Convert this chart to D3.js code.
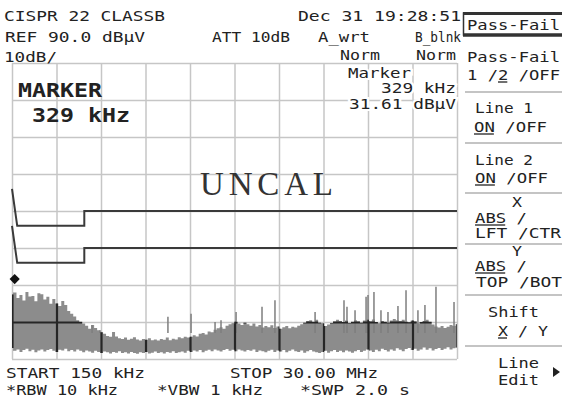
<!DOCTYPE html>
<html><head><meta charset="utf-8">
<script src="https://cdn.jsdelivr.net/npm/d3@7"></script>
<style>
html,body{margin:0;padding:0;background:#fff;}
svg{display:block;}
text{font-family:"DejaVu Sans Mono","Liberation Mono",monospace;fill:#222;}
</style></head><body>
<svg id="chart" width="562" height="403"></svg>
<script>
// Sweep settings
const startMHz = 0.15, stopMHz = 30.0;
const refLevel = 90, dbPerDiv = 10, yDivs = 8, xDivs = 10;

// Peak envelope of the sweep (dBµV), 150 evenly spaced display points
const tracePeak = [
  27.4, 28.0, 26.5, 27.3, 25.8, 28.1, 26.9, 27.0, 25.6, 27.8,
  27.5, 26.1, 26.8, 24.9, 26.2, 25.0, 24.3, 25.7, 24.6, 23.0,
  22.2, 21.5, 20.5, 20.1, 19.5, 19.0, 18.2, 19.2, 18.4, 17.8,
  17.2, 16.8, 16.2, 16.0, 17.3, 16.1, 15.6, 15.4, 15.8, 15.2,
  15.5, 15.9, 15.3, 15.0, 15.4, 15.2, 15.6, 15.1, 15.3, 15.0,
  15.4, 15.2, 15.8, 15.1, 15.5, 15.3, 15.9, 15.6, 16.0, 15.8,
  16.0, 16.4, 16.1, 16.8, 17.0, 16.6, 17.4, 17.2, 17.9, 18.3,
  18.6, 18.2, 19.0, 19.4, 19.6, 20.1, 19.5, 19.2, 19.8, 19.4,
  19.0, 19.5, 18.8, 19.2, 18.5, 18.9, 18.6, 19.1, 18.4, 18.8,
  18.2, 18.6, 18.9, 18.3, 18.7, 18.5, 19.0, 19.4, 19.8, 20.3,
  20.5, 20.1, 20.6, 19.8, 19.6, 18.9, 19.3, 19.7, 20.2, 20.6,
  20.3, 20.0, 20.4, 19.7, 20.1, 20.5, 20.2, 19.8, 20.4, 20.6,
  20.2, 20.7, 20.0, 19.6, 20.3, 20.1, 19.8, 20.4, 20.8, 20.5,
  20.3, 20.6, 20.1, 19.9, 20.4, 20.2, 19.5, 20.0, 20.3, 20.6,
  20.1, 19.3, 18.8, 18.5, 18.9, 18.4, 18.7, 19.2, 18.9, 19.4
];

// Lower edge of the noise band (dBµV), same display points
const traceFloor = [
  13.0, 12.2, 12.6, 11.9, 12.4, 12.8, 12.1, 12.5, 11.8, 12.3,
  12.6, 12.0, 12.4, 12.7, 12.2, 11.9, 12.5, 12.3, 12.8, 12.1,
  12.4, 12.0, 12.6, 12.2, 11.8, 12.3, 12.0, 11.7, 12.2, 11.9,
  11.6, 12.0, 11.8, 11.5, 11.9, 11.7, 12.1, 11.6, 11.8, 11.5,
  11.9, 11.6, 11.4, 11.8, 11.6, 11.9, 11.5, 11.7, 12.0, 11.6,
  11.8, 11.5, 11.9, 11.7, 12.1, 11.6, 11.8, 12.0, 11.7, 12.2,
  11.9, 12.3, 12.0, 12.4, 11.8, 12.2, 12.5, 12.1, 12.6, 12.3,
  12.0, 12.4, 12.7, 12.2, 12.5, 12.1, 12.6, 12.3, 12.0, 12.4,
  12.2, 12.6, 11.9, 12.3, 12.1, 11.8, 12.2, 12.5, 11.9, 12.3,
  12.0, 12.4, 11.8, 12.2, 12.6, 12.1, 11.9, 12.3, 11.7, 12.1,
  12.4, 12.0, 11.8, 11.6, 11.9, 12.2, 11.7, 12.1, 12.4, 11.9,
  12.2, 11.8, 12.3, 12.0, 11.7, 12.1, 12.4, 11.9, 12.2, 12.6,
  12.3, 11.9, 12.5, 12.1, 12.8, 12.4, 12.0, 12.6, 12.2, 12.9,
  12.5, 12.1, 12.7, 13.0, 12.4, 12.8, 12.2, 12.6, 13.1, 12.5,
  12.9, 12.3, 12.7, 13.0, 12.4, 12.8, 13.2, 12.6, 12.9, 13.1
];

// Narrow spurs standing above the noise band
const spurFreq  = [5.52, 6.05, 10.61, 12.16, 13.77, 14.17, 15.18, 16.92, 17.79, 20.48,
                   22.42, 22.62, 23.16, 23.90, 24.03, 24.43, 24.90, 25.37, 26.04, 26.58,
                   27.38, 27.85, 28.59, 29.80];
const spurLevel = [19.2, 17.8, 21.4, 22.2, 20.0, 20.5, 22.7, 24.1, 25.9, 22.7,
                   25.9, 24.1, 23.2, 26.8, 27.3, 28.1, 23.2, 22.7, 24.3, 28.6,
                   23.2, 24.6, 29.5, 25.4];

// Limit lines (CISPR 22 class B breakpoints, MHz / dBµV)
const limitFreq = [0.15, 0.5, 5.0, 5.0, 30.0];
const limitLine1 = [56, 46, 46, 50, 50];
const limitLine2 = [46, 36, 36, 40, 40];

// Marker readout
const markerFreq = 0.329, markerLevel = 31.61;

const svg = d3.select("#chart");
const gridL = 12, gridR = 457, gridT = 63, gridB = 359;

const x = d3.scaleLinear().domain([startMHz, stopMHz]).range([gridL, gridR]);
const y = d3.scaleLinear().domain([refLevel - yDivs * dbPerDiv, refLevel]).range([gridB, gridT]);

const xGridVals = d3.range(xDivs + 1).map(i => startMHz + i * (stopMHz - startMHz) / xDivs);
const yGridVals = d3.range(yDivs + 1).map(i => refLevel - i * dbPerDiv);

// Graticule drawn with axes (no labels)
function drawGrid(g, color, width) {
  g.append("g").attr("transform", `translate(0,${gridB})`)
    .call(d3.axisBottom(x).tickValues(xGridVals).tickSize(-(gridB - gridT)).tickFormat(""))
    .call(a => a.select(".domain").remove())
    .selectAll("line").attr("stroke", color).attr("stroke-width", width);
  g.append("g").attr("transform", `translate(${gridL},0)`)
    .call(d3.axisLeft(y).tickValues(yGridVals).tickSize(-(gridR - gridL)).tickFormat(""))
    .call(a => a.select(".domain").remove())
    .selectAll("line").attr("stroke", color).attr("stroke-width", width);
}
drawGrid(svg.append("g"), "#c6c6c6", 1.5);

// Sweep trace
const traceFreq = d3.range(tracePeak.length).map(i => startMHz + i * (stopMHz - startMHz) / (tracePeak.length - 1));
const band = d3.area()
  .x((d, i) => x(traceFreq[i]))
  .y0((d, i) => y(traceFloor[i]))
  .y1(d => y(d))
  .curve(d3.curveStep);
const bandPath = band(tracePeak);

svg.append("defs").append("clipPath").attr("id", "bandClip")
  .append("path").attr("d", bandPath);

svg.append("path").attr("d", bandPath).attr("fill", "#8c8c8c");

svg.append("g").selectAll("line").data(spurFreq).join("line")
  .attr("x1", d => x(d)).attr("x2", d => x(d))
  .attr("y1", y(17)).attr("y2", (d, i) => y(spurLevel[i]))
  .attr("stroke", "#7e7e7e").attr("stroke-width", 1.5);

// Graticule shows dark where it crosses the trace
drawGrid(svg.append("g").attr("clip-path", "url(#bandClip)"), "#262626", 2.2);

// Limit lines
const limitGen = d3.line().x((d, i) => x(limitFreq[i])).y(d => y(d));
[limitLine1, limitLine2].forEach(l => {
  svg.append("path").attr("d", limitGen(l)).attr("fill", "none")
    .attr("stroke", "#3a3a3a").attr("stroke-width", 2);
});

// Marker
svg.append("path")
  .attr("d", d3.symbol(d3.symbolSquare, 52)())
  .attr("transform", `translate(${x(markerFreq)},${y(markerLevel)}) rotate(45)`)
  .attr("fill", "#111");

// Text helper: monospace screen font stretched to the character cell
function label(px, py, str, opts = {}) {
  const adv = opts.adv || 10.6;
  const t = svg.append("text").attr("x", px).attr("y", py)
    .attr("font-size", opts.size || 13.5)
    .attr("textLength", opts.width || str.length * adv)
    .attr("lengthAdjust", "spacingAndGlyphs")
    .text(str);
  if (opts.bold) t.attr("font-weight", "bold");
  if (opts.anchor) t.attr("text-anchor", opts.anchor);
  if (opts.halo) t.attr("stroke", "#fff").attr("stroke-width", 4).attr("paint-order", "stroke");
  if (opts.underline) {
    const [s, n] = opts.underline;
    svg.append("line")
      .attr("x1", px + s * adv).attr("x2", px + (s + n) * adv - 1)
      .attr("y1", py + 2).attr("y2", py + 2)
      .attr("stroke", "#222").attr("stroke-width", 1.3);
  }
  return t;
}

// Header
label(4, 21, "CISPR 22 CLASSB", {width: 161});
label(298, 21, "Dec 31 19:28:51", {width: 163});
label(5, 42, "REF 90.0 dBµV", {width: 140});
label(212, 42, "ATT 10dB", {width: 78});
label(318, 42, "A_wrt", {width: 52});
label(415, 42, "B_blnk", {width: 46});
label(4, 62, "10dB/", {width: 53});
label(340, 60, "Norm", {width: 40});
label(416, 60, "Norm", {width: 40});

// Marker readouts
label(348, 78, "Marker", {width: 63, halo: true});
label(456, 93, "329 kHz", {width: 75, anchor: "end", halo: true});
label(456, 109, "31.61 dBµV", {width: 107, anchor: "end", halo: true});
label(18, 97, "MARKER", {size: 20, bold: true, width: 84});
label(32, 122, "329 kHz", {size: 20, bold: true, width: 98});

// Footer
label(6, 378, "START 150 kHz", {width: 139});
label(230, 378, "STOP 30.00 MHz", {width: 148});
label(6, 395, "*RBW 10 kHz", {width: 112});
label(157, 395, "*VBW 1 kHz", {width: 106});
label(300, 395, "*SWP 2.0 s", {width: 110});

// Status banner
svg.append("text").attr("x", 200).attr("y", 195)
  .attr("font-size", 33)
  .style("fill", "#333")
  .style("font-family", "'Liberation Serif','DejaVu Serif',serif")
  .attr("textLength", 133).attr("lengthAdjust", "spacing")
  .text("UNCAL");

// Soft-key menu
svg.append("rect").attr("x", 463.5).attr("y", 13).attr("width", 100).attr("height", 22)
  .attr("fill", "none").attr("stroke", "#333").attr("stroke-width", 1.5);
svg.append("line").attr("x1", 463).attr("x2", 562).attr("y1", 13.5).attr("y2", 13.5)
  .attr("stroke", "#333").attr("stroke-width", 3);
svg.append("line").attr("x1", 463).attr("x2", 562).attr("y1", 35).attr("y2", 35)
  .attr("stroke", "#333").attr("stroke-width", 3.5);
label(467, 30, "Pass-Fail", {width: 93});

[92, 143, 193, 244, 295, 346].forEach(sy => {
  svg.append("line").attr("x1", 465).attr("x2", 562).attr("y1", sy).attr("y2", sy)
    .attr("stroke", "#8a8a8a").attr("stroke-width", 1.2);
});

label(467, 62, "Pass-Fail", {width: 93});
label(467, 80, "1 /2 /OFF", {width: 93, adv: 10.33, underline: [3, 1]});
label(475, 113, "Line 1", {width: 58});
label(474, 132, "ON /OFF", {width: 73, adv: 10.43, underline: [0, 2]});
label(475, 165, "Line 2", {width: 58});
label(475, 183, "ON /OFF", {width: 73, adv: 10.43, underline: [0, 2]});
label(512, 207, "X", {width: 10});
label(475, 223, "ABS /", {width: 52, adv: 10.4, underline: [0, 3]});
label(475, 238, "LFT /CTR", {width: 86});
label(512, 256, "Y", {width: 10});
label(475, 271, "ABS /", {width: 52, adv: 10.4, underline: [0, 3]});
label(476, 287, "TOP /BOT", {width: 86});
label(488, 317, "Shift", {width: 51});
label(498, 336, "X / Y", {width: 50, adv: 10, underline: [0, 1]});
label(498, 368, "Line", {width: 41});
label(498, 385, "Edit", {width: 41});
svg.append("path").attr("d", "M553,367 L560,372 L553,377 Z").attr("fill", "#222");
</script>
</body></html>
